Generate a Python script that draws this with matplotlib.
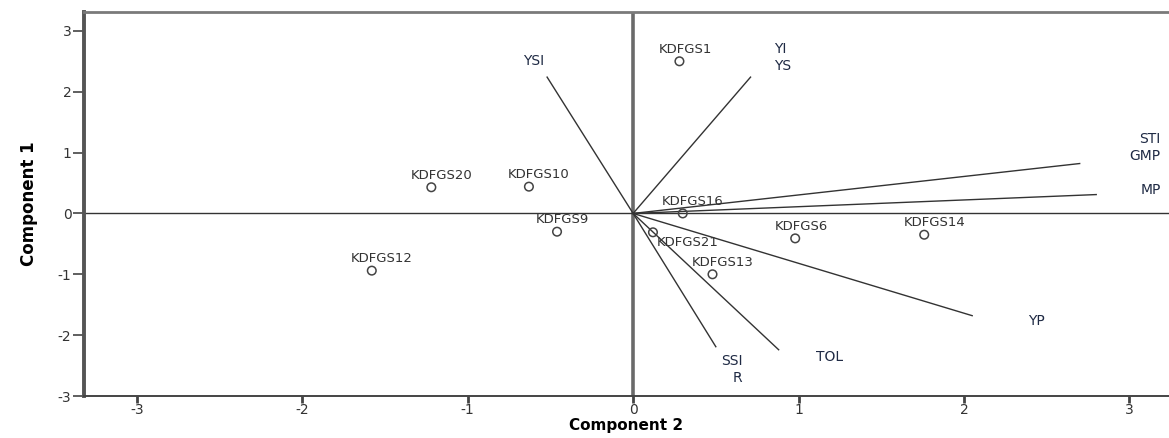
import matplotlib
matplotlib.use('Agg')
import matplotlib.pyplot as plt

plt.rcParams['axes.unicode_minus'] = False

# genotype scores (Component 2, Component 1)
genotypes = ['KDFGS1', 'KDFGS20', 'KDFGS10', 'KDFGS16', 'KDFGS9', 'KDFGS21',
             'KDFGS6', 'KDFGS14', 'KDFGS12', 'KDFGS13']
geno_x = [0.28, -1.22, -0.63, 0.30, -0.46, 0.12, 0.98, 1.76, -1.58, 0.48]
geno_y = [2.50, 0.43, 0.44, 0.00, -0.30, -0.31, -0.41, -0.35, -0.94, -1.00]

# index loadings (vector ends)
indices = ['YSI', 'YI\nYS', 'STI\nGMP', 'MP', 'YP', 'SSI\nR', 'TOL']
vec_x = [-0.52, 0.71, 2.70, 2.80, 2.05, 0.50, 0.88]
vec_y = [2.24, 2.24, 0.82, 0.31, -1.68, -2.19, -2.24]

# label placement
geno_off = {'KDFGS21': (3, -3, 'left', 'top')}
idx_pos = {'YSI': (-0.60, 2.50, 'center'),
           'YI\nYS': (0.85, 2.56, 'left'),
           'STI\nGMP': (3.19, 1.08, 'right'),
           'MP': (3.19, 0.38, 'right'),
           'YP': (2.44, -1.77, 'center'),
           'SSI\nR': (0.66, -2.56, 'right'),
           'TOL': (1.19, -2.36, 'center')}

fig = plt.figure(figsize=(11.69, 4.38), dpi=100)
ax = fig.add_axes([84 / 1169, 42 / 438, 1085 / 1169, 384 / 438])

ax.set_xlim(-3.32, 3.24)
ax.set_ylim(-3.0, 3.31)

# reference lines
ax.axvline(0, color='#6a6a6a', lw=2.6, zorder=1)
ax.axhline(0, color='#333333', lw=1.0, zorder=1)

# vectors
for vx, vy in zip(vec_x, vec_y):
    ax.plot([0, vx], [0, vy], color='#333333', lw=1.0, zorder=2)

for name in indices:
    tx, ty, ha = idx_pos[name]
    ax.text(tx, ty, name, ha=ha, va='center', fontsize=10, color='#1f2a44',
            linespacing=1.25)

# genotype points
ax.scatter(geno_x, geno_y, s=38, facecolors='none', edgecolors='#444444',
           linewidths=1.1, zorder=3)
for name, gx, gy in zip(genotypes, geno_x, geno_y):
    dx, dy, ha, va = geno_off.get(name, (-15, 4, 'left', 'bottom'))
    ax.annotate(name, (gx, gy), xytext=(dx, dy), textcoords='offset points',
                ha=ha, va=va, fontsize=9.5, color='#333333')

# spines
ax.spines['right'].set_visible(False)
ax.spines['left'].set_color('#555555')
ax.spines['left'].set_linewidth(2.8)
ax.spines['top'].set_color('#7a7a7a')
ax.spines['top'].set_linewidth(2.0)
ax.spines['bottom'].set_color('#444444')
ax.spines['bottom'].set_linewidth(1.4)

ax.set_xticks([-3, -2, -1, 0, 1, 2, 3])
ax.set_yticks([-3, -2, -1, 0, 1, 2, 3])
ax.tick_params(axis='y', length=8, width=1.2, color='#444444',
               labelsize=10, labelcolor='#333333', pad=1)
ax.tick_params(axis='x', length=5, width=2.0, color='#444444',
               labelsize=10, labelcolor='#333333', pad=0)

ax.set_xlabel('Component 2', fontsize=11, fontweight='bold', labelpad=1)
ax.set_ylabel('Component 1', fontsize=12, fontweight='bold', labelpad=14,
              family=['Liberation Sans Narrow', 'DejaVu Sans'])

plt.savefig('out.png', dpi=100)
